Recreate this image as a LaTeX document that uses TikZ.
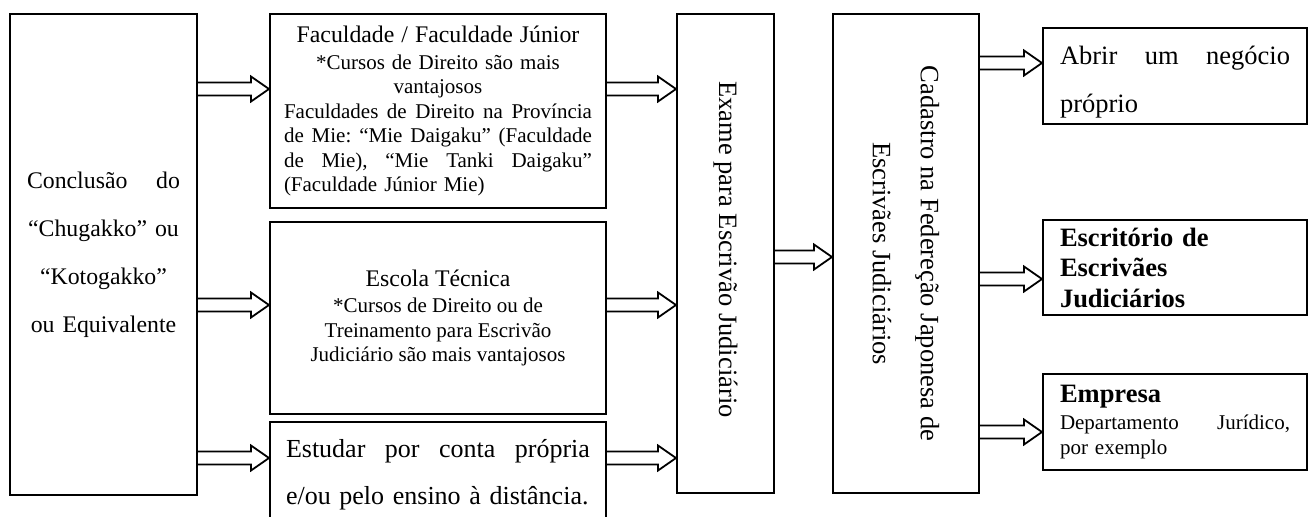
\documentclass[tikz,border=0pt]{standalone}
\usepackage{fontspec}
\setmainfont{Liberation Serif}
\usetikzlibrary{calc}
\frenchspacing

\newcommand{\fbig}{\fontsize{13.25}{24}\selectfont}
\newcommand{\fmed}{\fontsize{11.9}{24}\selectfont}
\newcommand{\fsmall}{\fontsize{10.5}{12.25}\selectfont}
\newcommand{\fhead}{\fontsize{13.25}{15.25}\selectfont\bfseries}
% justified line of given width (words split by \hfill)
\newcommand{\linha}[2]{\makebox[#1][l]{#2}}

\tikzset{
	box/.style={draw, line width=1pt, inner sep=0pt},
	seta/.style={draw, line width=0.9pt, line join=miter},
}

% open block arrow from node #1 to node #2 at height #3
\newcommand{\seta}[3]{%
	\coordinate (lvl) at (0,#3);
	\coordinate (s) at (#1.east |- lvl);
	\coordinate (e) at (#2.west |- lvl);
	\draw[seta] ($(s)+(0,-6.5)$) -- ($(e)+(-18,-6.5)$) -- ($(e)+(-18,-12.5)$) -- (e)
		-- ($(e)+(-18,12.5)$) -- ($(e)+(-18,6.5)$) -- ($(s)+(0,6.5)$);}

\begin{document}
\begin{tikzpicture}[x=0.5pt, y=-0.5pt]
	\useasboundingbox (0,0) rectangle (1308,516);
	\clip (0,0) rectangle (1308,516);

	\node[box, minimum width=93.5pt, minimum height=240.5pt, text width=76.5pt, align=center, font=\fmed] (conclusao) at (103.5,254.5) {Conclusão\hfill do\\ “Chugakko” ou\\ “Kotogakko”\\ ou Equivalente};

	\node[box, minimum width=168pt, minimum height=97pt, text width=154pt, align=center, font=\fsmall] (faculdade) at (438,111) {{\fmed Faculdade / Faculdade Júnior}\\[1pt] *Cursos de Direito são mais\\ vantajosos\\ \linha{154pt}{Faculdades \hfill de \hfill Direito \hfill na \hfill Província}\\ \linha{154pt}{de \hfill Mie: \hfill “Mie \hfill Daigaku” \hfill (Faculdade}\\ \linha{154pt}{de \hfill Mie), \hfill “Mie \hfill Tanki \hfill Daigaku”}\\ \linha{154pt}{(Faculdade Júnior Mie)}};
	\node[box, minimum width=168pt, minimum height=96pt, align=center, font=\fsmall] (escola) at (438,318) {{\fmed Escola Técnica}\\[1pt] *Cursos de Direito ou de\\ Treinamento para Escrivão\\ Judiciário são mais vantajosos};
	\node[box, minimum width=168pt, minimum height=53pt, text width=152pt, align=left, font=\fontsize{13}{23.5}\selectfont] (estudar) at (438,475) {\linha{152pt}{Estudar \hfill por \hfill conta \hfill própria}\\ \linha{152pt}{e/ou pelo ensino à distância.}};

	\node[box, minimum width=48.5pt, minimum height=239.5pt] (exame) at (725.5,253.5) {};
	\node[rotate=-90, font=\fbig, xshift=-2pt] at (exame) {Exame para Escrivão Judiciário};

	\node[box, minimum width=73pt, minimum height=239.5pt] (cadastro) at (906,253.5) {};
	\node[rotate=-90, align=center, font=\fbig, text depth=0pt] at (cadastro) {Cadastro na Federeção Japonesa de\\ Escrivães Judiciários};

	\node[box, minimum width=132pt, minimum height=48pt, text width=115pt, align=left, font=\fbig] (negocio) at (1175,76) {\rule{0pt}{15pt}\linha{115pt}{Abrir \hfill um \hfill negócio}\\ próprio};
	\node[box, minimum width=132pt, minimum height=47.5pt, text width=115pt, align=left, font=\fhead] (escritorio) at (1175,267.5) {Escritório de\\ Escrivães\\ Judiciários};
	\node[box, minimum width=132pt, minimum height=48pt, text width=115pt, align=left, font=\fsmall] (empresa) at (1175,422) {{\fhead Empresa}\\[1.5pt] \linha{115pt}{Departamento \hfill Jurídico,}\\ por exemplo};

	\seta{conclusao}{faculdade}{89}
	\seta{conclusao}{escola}{305}
	\seta{conclusao}{estudar}{458}
	\seta{faculdade}{exame}{89}
	\seta{escola}{exame}{305}
	\seta{estudar}{exame}{458}
	\seta{exame}{cadastro}{257}
	\seta{cadastro}{negocio}{63}
	\seta{cadastro}{escritorio}{279}
	\seta{cadastro}{empresa}{432}
\end{tikzpicture}
\end{document}
